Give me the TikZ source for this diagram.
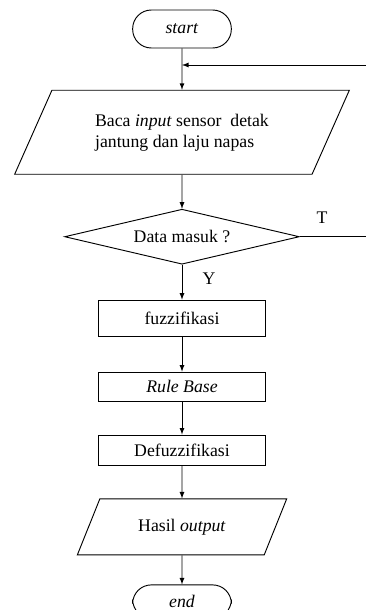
\documentclass[tikz,border=0pt]{standalone}
\usepackage{fontspec}
\setmainfont{Liberation Serif}
\usetikzlibrary{shapes.geometric, arrows, positioning}

\tikzstyle{startstop} = [rectangle, rounded corners=14pt, minimum width=74pt, minimum height=28.5pt, text centered, draw=black]
\tikzstyle{io} = [trapezium, trapezium stretches body, text centered, draw=black]
\tikzstyle{process} = [rectangle, minimum width=125pt, text centered, draw=black]
\tikzstyle{decision} = [diamond, aspect=4.3, minimum width=176pt, minimum height=41.25pt, inner sep=1pt, draw=black]
\tikzstyle{arrow} = [->,>=latex]

\begin{document}
\begin{tikzpicture}[x=0.75pt, y=-0.75pt, line width=0.7pt, font=\fontsize{13.3pt}{15.75pt}\selectfont]
\clip (0,0) rectangle (366,610);

\node (start) [startstop] at (182,29) {\textit{start}};
\node (baca) [io, below=31pt of start, trapezium left angle=51, trapezium right angle=129, minimum width=251pt, minimum height=63pt, align=left] {Baca \textit{input} sensor\ \ detak\\jantung dan laju napas};
\node (dec) [decision, below=25.5pt of baca] {Data masuk ?};
\node (fuzz) [process, below=26.25pt of dec, minimum height=27pt] {fuzzifikasi};
\node (rule) [process, below=26.25pt of fuzz, minimum height=21.75pt] {\textit{Rule Base}};
\node (defuzz) [process, below=24.75pt of rule, minimum height=22.5pt] {Defuzzifikasi};
\node (hasil) [io, below=24.75pt of defuzz, trapezium left angle=48, trapezium right angle=132, minimum width=157pt, minimum height=42pt] {Hasil \textit{output}};
\node (end) [startstop, below=21.75pt of hasil, minimum height=25pt] {\textit{end}};

\node (tlab) at (322,218) {T};
\node (ylab) at (209,279) {Y};
\coordinate (back) at (182,65);

\draw [arrow] (start) -- (baca);
\draw [arrow] (baca) -- (dec);
\draw [arrow] (dec) -- (fuzz);
\draw [arrow] (fuzz) -- (rule);
\draw [arrow] (rule) -- (defuzz);
\draw [arrow] (defuzz) -- (hasil);
\draw [arrow] (hasil) -- (end);
\draw [arrow] (dec.east) -- ++(90,0) |- (back);
\end{tikzpicture}
\end{document}
